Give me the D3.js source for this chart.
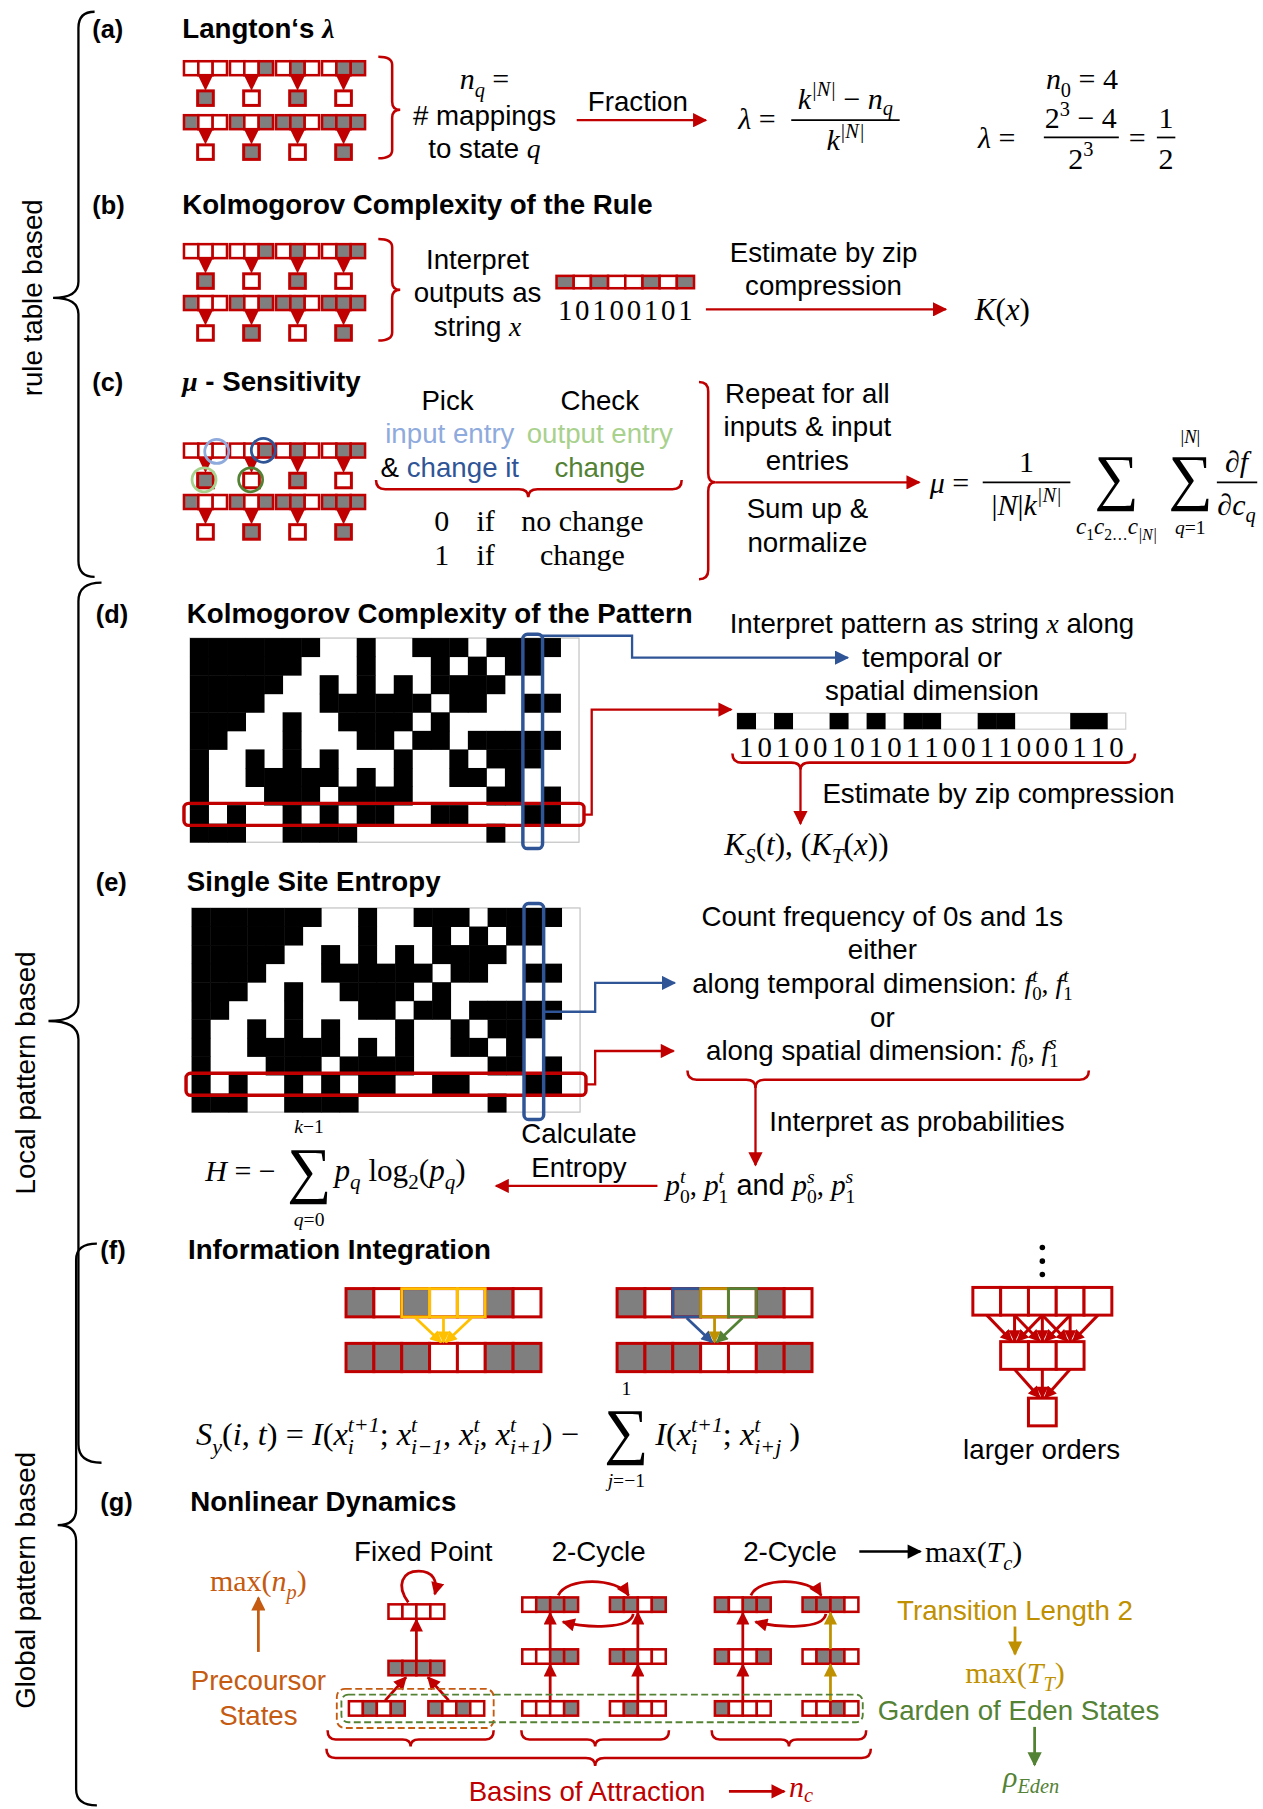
<!DOCTYPE html>
<html>
<head>
<meta charset="utf-8">
<script src="https://cdn.jsdelivr.net/npm/d3@7"></script>
<style>body{margin:0;background:#fff}svg{display:block}</style>
</head>
<body>
<svg id="fig"></svg>
<script>
// ---------- data ----------
const ruleInputs = ["000","001","010","011","100","101","110","111"];
const ruleOutputs = [1,0,1,0,0,1,0,1];
// space-time pattern of the automaton, one string per time step
const caRows = [
  "111111100100111011110",
  "111111000100010101100",
  "111110010101011110000",
  "111100011111101100110",
  "111001001111010000000",
  "110001000110110111110",
  "100101010001001011100",
  "100111110101001101000",
  "100011101111000011010",
  "101001010110011000110",
  "111001111000000010000"
];
const markedRow = 9, markedCol = 18;
const iiTop = [1,0,1,0,0,1,0];
const iiBottom = [1,1,1,0,0,1,1];
const iiBlock = [2,3,4];
const largerOrderRows = [5,3,1];
const fixedPoint = {top:"0000", mid:"1111", pre:["0101","1010"]};
const cycleOne = {top:["0111","1101"], mid:["0011","1100"], eden:["0001","0100"]};
const cycleTwo = {top:["1011","1110"], mid:["1001","0110"], eden:["1000","0010"]};
const lambdaExample = {k:2, N:3, n0:4};

// ---------- style ----------
const R="#c00000", G="#7f7f7f", BLUE="#2f5597", LBLUE="#8faadc", GREEN="#548235",
      LGREEN="#a9d18e", GOLD="#bf9000", YEL="#ffc000", ORANGE="#c55a11";
const SANS="'Liberation Sans', Arial, sans-serif";
const SERIF="'Liberation Serif', 'DejaVu Serif', serif";

const svg = d3.select("#fig").attr("width",1263).attr("height",1809)
  .attr("viewBox","0 0 1095 1568");
svg.append("rect").attr("width",1095).attr("height",1568).attr("fill","#fff");
const defs = svg.append("defs");

function mk(color, size){
  const id = "ah"+color.slice(1)+"_"+size;
  if (defs.select("#"+id).empty()){
    defs.append("marker").attr("id",id).attr("viewBox","0 0 10 10")
      .attr("refX",9).attr("refY",5).attr("markerWidth",size).attr("markerHeight",size*0.95)
      .attr("markerUnits","userSpaceOnUse").attr("orient","auto")
      .append("path").attr("d","M0,0 L10,5 L0,10 z").attr("fill",color);
  }
  return id;
}
function arrow(g, d, color, sw=2, size=13){
  g.append("path").attr("d",d).attr("fill","none").attr("stroke",color)
    .attr("stroke-width",sw).attr("marker-end",`url(#${mk(color,size)})`);
}
function line(g,x1,y1,x2,y2,color="#000",sw=1.5){
  g.append("line").attr("x1",x1).attr("y1",y1).attr("x2",x2).attr("y2",y2)
    .attr("stroke",color).attr("stroke-width",sw);
}
function txt(g,x,y,s,o={}){
  return g.append("text").attr("x",x).attr("y",y).text(s)
    .attr("font-family",o.family||SANS).attr("font-size",o.size||24)
    .attr("font-weight",o.weight||"normal").attr("font-style",o.style||"normal")
    .attr("fill",o.fill||"#000").attr("text-anchor",o.anchor||"start");
}
// rich text: flags i=italic, m=serif, s=sans, _=subscript, ^=superscript, k=stack over previous, B=bold
function rich(g,x,y,parts,o={}){
  const size=o.size||26;
  const subOff=o.sub||0.26;
  const t=g.append("text").attr("x",x).attr("y",y).attr("font-size",size)
    .attr("text-anchor",o.anchor||"start").attr("fill",o.fill||"#000")
    .attr("font-family",o.family||SERIF);
  let off=0, prev=null, pend=0;
  parts.forEach(p=>{
    if (typeof p==="string") p=[p,"m"];
    const [s,st,col]=p;
    const small = st.includes("_")||st.includes("^");
    const target = st.includes("_")? size*subOff : st.includes("^")? -size*0.42 : 0;
    const ts=t.append("tspan").text(s).attr("dy",target-off);
    off=target;
    if (small) ts.attr("font-size",size*0.68);
    if (st.includes("i")) ts.attr("font-style","italic");
    if (st.includes("m")) ts.attr("font-family",SERIF);
    if (st.includes("s")) ts.attr("font-family",SANS);
    if (st.includes("B")) ts.attr("font-weight","bold");
    if (col) ts.attr("fill",col);
    if (st.includes("k") && prev){
      const w0=prev.node().getComputedTextLength();
      ts.attr("dx",-w0);
      const w1=ts.node().getComputedTextLength();
      pend=Math.max(0,w0-w1);
    } else {
      if (pend>0) ts.attr("dx",pend);
      pend=0;
    }
    prev=ts;
  });
  return t;
}
// vertical curly brace; ends at x0, spine at x1, tip at xt
function braceV(g,x0,x1,xt,y0,y1,ym,color,sw,r){
  g.append("path").attr("fill","none").attr("stroke",color).attr("stroke-width",sw)
   .attr("d",`M${x0},${y0} Q${x1},${y0} ${x1},${y0+r} L${x1},${ym-r} Q${x1},${ym} ${xt},${ym} Q${x1},${ym} ${x1},${ym+r} L${x1},${y1-r} Q${x1},${y1} ${x0},${y1}`);
}
// horizontal curly brace opening upward, tip pointing down
function braceH(g,x0,x1,xm,y0,y1,yt,color,sw,r){
  g.append("path").attr("fill","none").attr("stroke",color).attr("stroke-width",sw)
   .attr("d",`M${x0},${y0} Q${x0},${y1} ${x0+r},${y1} L${xm-r},${y1} Q${xm},${y1} ${xm},${yt} Q${xm},${y1} ${xm+r},${y1} L${x1-r},${y1} Q${x1},${y1} ${x1},${y0}`);
}
function cellRow(g,x0,x1,y,h,vals,sw=2.2,stroke=R){
  const x=d3.scaleBand().domain(d3.range(vals.length)).range([x0,x1]);
  g.selectAll(null).data(vals).join("rect")
    .attr("x",(d,i)=>x(i)).attr("y",y).attr("width",x.bandwidth()).attr("height",h)
    .attr("fill",d=>+d?G:"#fff").attr("stroke",stroke).attr("stroke-width",sw);
  return x;
}
function drawRule(g,x,y,inp,out){
  cellRow(g,x,x+37.3,y,12.1,inp.split(""));
  const cx=x+18.65;
  g.append("path").attr("d",`M${cx-6.5},${y+12.1} L${cx+6.5},${y+12.1} L${cx},${y+25.5} Z`).attr("fill",R);
  g.append("rect").attr("x",cx-6.8).attr("y",y+25.7).attr("width",13.6).attr("height",12.6)
    .attr("fill",out?G:"#fff").attr("stroke",R).attr("stroke-width",2.6);
}
function ruleIcons(g,x0,y0,rowPitch){
  const col=d3.scaleLinear().domain([0,1]).range([x0,x0+39.9]);
  ruleInputs.forEach((inp,i)=>drawRule(g,col(i%4),y0+Math.floor(i/4)*rowPitch,inp,ruleOutputs[i]));
}
function caGrid(g,x0,x1,y0,y1){
  const x=d3.scaleBand().domain(d3.range(caRows[0].length)).range([x0,x1]);
  const y=d3.scaleBand().domain(d3.range(caRows.length)).range([y0,y1]);
  g.append("rect").attr("x",x0).attr("y",y0).attr("width",x1-x0).attr("height",y1-y0)
    .attr("fill","#fff").attr("stroke","#bfbfbf").attr("stroke-width",1);
  const cells=[];
  caRows.forEach((row,r)=>row.split("").forEach((v,c)=>{ if(v==="1") cells.push({r,c}); }));
  g.selectAll(null).data(cells).join("rect")
    .attr("x",d=>x(d.c)).attr("y",d=>y(d.r)).attr("width",x.bandwidth()+0.4).attr("height",y.bandwidth()+0.4)
    .attr("fill","#000");
  return {x,y};
}
function panelHead(label,lx,title,tx,cy){
  txt(svg,lx,cy+8,label,{weight:"bold",size:22});
  if (typeof title==="string") txt(svg,tx,cy+8,title,{weight:"bold",size:24});
  else rich(svg,tx,cy+8,title,{size:24,family:SANS});
}
function bigSum(g,cx,base){
  txt(g,cx,base,"∑",{anchor:"middle",family:SERIF,size:54});
}

// ---------- side braces & group labels ----------
const side=svg.append("g");
braceV(side,82,68,46,10,500,258,"#000",2,14);
braceV(side,88,68,42,505,1268,885,"#000",2,16);
braceV(side,84,66,50,1078,1565,1322,"#000",2,14);
[["rule table based",28,258],["Local pattern based",22,930],["Global pattern based",22,1370]].forEach(([s,x,y])=>{
  txt(side,0,0,s,{anchor:"middle",size:24}).attr("dominant-baseline","central")
    .attr("transform",`translate(${x},${y}) rotate(-90)`);
});

// ---------- panel headers ----------
panelHead("(a)",80,[["Langton‘s ","sB"],["λ","miB"]],158,25);
panelHead("(b)",80,"Kolmogorov Complexity of the Rule",158,177);
panelHead("(c)",80,[["μ","miB"],[" - Sensitivity","sB"]],158,331);
panelHead("(d)",83,"Kolmogorov Complexity of the Pattern",162,532);
panelHead("(e)",83,"Single Site Entropy",162,764);
panelHead("(f)",87,"Information Integration",163,1083);
panelHead("(g)",87,"Nonlinear Dynamics",165,1302);

// ---------- (a) Langton's lambda ----------
const pa=svg.append("g");
ruleIcons(pa,159.5,52.9,46.8);
braceV(pa,328,340,347,49,137,95,R,2.2,7);
rich(pa,420,77,[["n","mi"],["q","mi_"],[" =","m"]],{anchor:"middle"});
txt(pa,420,108,"# mappings",{anchor:"middle"});
rich(pa,420,137,[["to state ","s"],["q","mi"]],{anchor:"middle",size:24,family:SANS});
txt(pa,553,96,"Fraction",{anchor:"middle"});
arrow(pa,"M500,104 H612",R,2);
rich(pa,640,112,[["λ","mi"],[" =","m"]]);
rich(pa,733,94,[["k","mi"],["|N|","mi^"],[" − ","m"],["n","mi"],["q","mi_"]],{anchor:"middle",sub:0.2});
line(pa,686,104,780,104);
rich(pa,733,130,[["k","mi"],["|N|","mi^"]],{anchor:"middle"});
const kN=Math.pow(lambdaExample.k,lambdaExample.N);
const lamNum=kN-lambdaExample.n0, lamGcd=d3.range(1,kN+1).filter(d=>lamNum%d===0&&kN%d===0).pop();
rich(pa,938,77,[["n","mi"],["0","m_"],[" = "+lambdaExample.n0,"m"]],{anchor:"middle"});
rich(pa,848,128,[["λ","mi"],[" =","m"]]);
rich(pa,937,111,[[String(lambdaExample.k),"m"],[String(lambdaExample.N),"m^"],[" − "+lambdaExample.n0,"m"]],{anchor:"middle"});
line(pa,905,119,970,119);
rich(pa,937,146,[[String(lambdaExample.k),"m"],[String(lambdaExample.N),"m^"]],{anchor:"middle"});
rich(pa,986,128,[["=","m"]],{anchor:"middle"});
rich(pa,1011,111,[[String(lamNum/lamGcd),"m"]],{anchor:"middle"});
line(pa,1003,119,1019,119);
rich(pa,1011,146,[[String(kN/lamGcd),"m"]],{anchor:"middle"});

// ---------- (b) Kolmogorov complexity of the rule ----------
const pb=svg.append("g");
ruleIcons(pb,159.5,211.5,45);
braceV(pb,328,340,347,207,295,251,R,2.2,7);
txt(pb,414,233,"Interpret",{anchor:"middle"});
txt(pb,414,262,"outputs as",{anchor:"middle"});
rich(pb,414,291,[["string ","s"],["x","mi"]],{anchor:"middle",size:24,family:SANS});
const bx=cellRow(pb,482.5,601.7,239,10.7,ruleOutputs);
pb.selectAll(null).data(ruleOutputs).join("text")
  .attr("x",(d,i)=>bx(i)+bx.bandwidth()/2).attr("y",277).text(d=>d)
  .attr("text-anchor","middle").attr("font-family",SERIF).attr("font-size",25);
txt(pb,714,227,"Estimate by zip",{anchor:"middle"});
txt(pb,714,256,"compression",{anchor:"middle"});
arrow(pb,"M612,268 H820",R,2);
rich(pb,845,277,[["K","mi"],["(","m"],["x","mi"],[")","m"]],{size:27});

// ---------- (c) mu-sensitivity ----------
const pc=svg.append("g");
ruleIcons(pc,159.5,384.4,44.6);
[[187.9,391.2,LBLUE],[228.3,390.2,BLUE],[176.9,415.8,LGREEN],[217.3,415.8,GREEN]].forEach(([x,y,c])=>{
  pc.append("circle").attr("cx",x).attr("cy",y).attr("r",10.4).attr("fill","none")
    .attr("stroke",c).attr("stroke-width",2.4);
});
txt(pc,388,355,"Pick",{anchor:"middle"});
txt(pc,520,355,"Check",{anchor:"middle"});
txt(pc,390,384,"input entry",{anchor:"middle",fill:LBLUE});
txt(pc,520,384,"output entry",{anchor:"middle",fill:LGREEN});
rich(pc,390,413,[["& ","s"],["change it","s",BLUE]],{anchor:"middle",size:24,family:SANS});
txt(pc,520,413,"change",{anchor:"middle",fill:GREEN});
braceH(pc,326,591,458,416,424,431,R,2.2,8);
[["0","no change",460],["1","change",490]].forEach(([v,s,y])=>{
  txt(pc,383,y,v,{anchor:"middle",family:SERIF,size:26});
  txt(pc,421,y,"if",{anchor:"middle",family:SERIF,size:26});
  txt(pc,505,y,s,{anchor:"middle",family:SERIF,size:26});
});
braceV(pc,606,614,620,331,502,418,R,2.2,8);
txt(pc,700,349,"Repeat for all",{anchor:"middle"});
txt(pc,700,378,"inputs & input",{anchor:"middle"});
txt(pc,700,407,"entries",{anchor:"middle"});
txt(pc,700,449,"Sum up &",{anchor:"middle"});
txt(pc,700,478,"normalize",{anchor:"middle"});
arrow(pc,"M620,418 H797",R,2);
rich(pc,806,427,[["μ","mi"],[" =","m"]]);
rich(pc,890,409,[["1","m"]],{anchor:"middle"});
line(pc,852,418,928,418);
rich(pc,890,446,[["|","m"],["N","mi"],["|","m"],["k","mi"],["|N|","mi^"]],{anchor:"middle"});
bigSum(pc,968,432);
rich(pc,968,463,[["c","mi"],["1","m_"],["c","mi"],["2","m_"],["…","m_"],["c","mi"],["|N|","mi_"]],{anchor:"middle",size:20});
bigSum(pc,1032,432);
rich(pc,1032,384,[["|","m"],["N","mi"],["|","m"]],{anchor:"middle",size:16});
rich(pc,1032,463,[["q","mi"],["=1","m"]],{anchor:"middle",size:17});
rich(pc,1072,409,[["∂","m"],["f","mi"]],{anchor:"middle"});
line(pc,1055,418,1090,418);
rich(pc,1072,446,[["∂","m"],["c","mi"],["q","mi_"]],{anchor:"middle"});

// ---------- (d) Kolmogorov complexity of the pattern ----------
const pd=svg.append("g");
const gd=caGrid(pd,164.7,502,553,730);
pd.append("rect").attr("x",159.5).attr("y",gd.y(markedRow)-1.5).attr("width",346.8).attr("height",gd.y.bandwidth()+3)
  .attr("rx",4).attr("fill","none").attr("stroke",R).attr("stroke-width",3);
pd.append("rect").attr("x",gd.x(markedCol)-0.5).attr("y",549.7).attr("width",gd.x.bandwidth()+1).attr("height",185.8)
  .attr("rx",4).attr("fill","none").attr("stroke",BLUE).attr("stroke-width",3);
arrow(pd,"M470,551 H548 V570 H735",BLUE,2);
arrow(pd,"M506.3,706 H513 V615 H634",R,2);
rich(pd,808,549,[["Interpret pattern as string ","s"],["x","mi"],[" along","s"]],{anchor:"middle",size:24,family:SANS});
txt(pd,808,578,"temporal or",{anchor:"middle"});
txt(pd,808,607,"spatial dimension",{anchor:"middle"});
const stripVals=caRows[markedRow].split("").map(Number);
const sx=d3.scaleBand().domain(d3.range(stripVals.length)).range([639,976]);
pd.append("rect").attr("x",639).attr("y",618).attr("width",337).attr("height",14)
  .attr("fill","#fff").attr("stroke","#d0d0d0").attr("stroke-width",1);
pd.selectAll(null).data(stripVals.map((v,i)=>({v,i})).filter(d=>d.v)).join("rect")
  .attr("x",d=>sx(d.i)).attr("y",618).attr("width",sx.bandwidth()+0.4).attr("height",14).attr("fill","#000");
pd.selectAll(null).data(stripVals).join("text")
  .attr("x",(d,i)=>sx(i)+sx.bandwidth()/2).attr("y",656).text(d=>d)
  .attr("text-anchor","middle").attr("font-family",SERIF).attr("font-size",25);
braceH(pd,635,984,694,653,661,667,R,2.2,8);
arrow(pd,"M694,664 V714",R,2);
txt(pd,713,696,"Estimate by zip compression");
rich(pd,628,741,[["K","mi"],["S","mi_"],["(","m"],["t","mi"],["), (","m"],["K","mi"],["T","mi_"],["(","m"],["x","mi"],["))","m"]],{size:27});

// ---------- (e) single site entropy ----------
const pe=svg.append("g");
const ge=caGrid(pe,166.2,502.9,787,964);
pe.append("rect").attr("x",161.3).attr("y",ge.y(markedRow)-1.5).attr("width",346.7).attr("height",ge.y.bandwidth()+3)
  .attr("rx",4).attr("fill","none").attr("stroke",R).attr("stroke-width",3);
pe.append("rect").attr("x",ge.x(markedCol)-0.5).attr("y",783.2).attr("width",ge.x.bandwidth()+1).attr("height",187.2)
  .attr("rx",4).attr("fill","none").attr("stroke",BLUE).attr("stroke-width",3);
arrow(pe,"M471,877 H516 V852 H585",BLUE,2);
arrow(pe,"M508,940 H516 V911 H584",R,2);
txt(pe,765,803,"Count frequency of 0s and 1s",{anchor:"middle"});
txt(pe,765,831,"either",{anchor:"middle"});
rich(pe,765,861,[["along temporal dimension: ","s"],["f","mi"],["0","m_"],["t","mi^k"],[", ","m"],["f","mi"],["1","m_"],["t","mi^k"]],{anchor:"middle",size:24,family:SANS});
txt(pe,765,890,"or",{anchor:"middle"});
rich(pe,765,919,[["along spatial dimension: ","s"],["f","mi"],["0","m_"],["s","mi^k"],[", ","m"],["f","mi"],["1","m_"],["s","mi^k"]],{anchor:"middle",size:24,family:SANS});
braceH(pe,596,944,655,928,936,943,R,2.2,8);
arrow(pe,"M655,942 V1010",R,2);
txt(pe,667,980,"Interpret as probabilities");
rich(pe,577,1036,[["p","mi"],["0","m_"],["t","mi^k"],[", ","m"],["p","mi"],["1","m_"],["t","mi^k"],[" and ","s"],["p","mi"],["0","m_"],["s","mi^k"],[", ","m"],["p","mi"],["1","m_"],["s","mi^k"]],{size:25});
arrow(pe,"M570,1028 H430",R,2);
txt(pe,502,991,"Calculate",{anchor:"middle"});
txt(pe,502,1020,"Entropy",{anchor:"middle"});
rich(pe,178,1024,[["H","mi"],[" = −","m"]]);
bigSum(pe,268,1032);
rich(pe,268,982,[["k","mi"],["−1","m"]],{anchor:"middle",size:17});
rich(pe,268,1063,[["q","mi"],["=0","m"]],{anchor:"middle",size:17});
rich(pe,290,1024,[["p","mi"],["q","mi_"],[" log","m"],["2","m_"],["(","m"],["p","mi"],["q","mi_"],[")","m"]],{size:27});

// ---------- (f) information integration ----------
const pf=svg.append("g");
function iiPair(x0,outline){
  const w=169;
  const tx=cellRow(pf,x0,x0+w,1117,24.5,iiTop,2.6);
  cellRow(pf,x0,x0+w,1164.5,24.5,iiBottom,2.6);
  const bw=tx.bandwidth();
  iiBlock.forEach((c,k)=>{
    pf.append("rect").attr("x",tx(c)).attr("y",1117).attr("width",bw).attr("height",24.5)
      .attr("fill","none").attr("stroke",outline[k]).attr("stroke-width",2.4);
  });
  const target=tx(iiBlock[1])+bw/2;
  iiBlock.forEach((c,k)=>{
    const sx0=tx(c)+bw/2;
    arrow(pf,`M${sx0},${1142.5} L${target+(sx0-target)*0.08},${1163.5}`,outline[k],2.4,11);
  });
}
iiPair(300,[YEL,YEL,YEL]);
iiPair(535,[BLUE,GOLD,GREEN]);
// higher-order integration scheme
[1081.4,1093.2,1104.8].forEach(y=>pf.append("circle").attr("cx",903.7).attr("cy",y).attr("r",2.4).attr("fill","#000"));
const loY=[1116,1163,1212];
const loRows=largerOrderRows.map((n,r)=>{
  const w=24.1*n, x0=903.7-w/2;
  const x=cellRow(pf,x0,x0+w,loY[r],24,d3.range(n).map(()=>0),2.6);
  return {x,n};
});
for (let r=0;r<2;r++){
  const up=loRows[r], dn=loRows[r+1], bw=up.x.bandwidth();
  for (let j=0;j<dn.n;j++){
    for (let i=j;i<j+3;i++){
      const x1=up.x(i)+bw/2, x2=dn.x(j)+bw/2;
      arrow(pf,`M${x1},${loY[r]+24} L${x2+(x1-x2)*0.1},${loY[r+1]-0.5}`,R,2.6,11);
    }
  }
}
txt(pf,903,1265,"larger orders",{anchor:"middle"});
rich(pf,170,1253,[["S","mi"],["y","mi_"],["(","m"],["i","mi"],[", ","m"],["t","mi"],[")  =  ","m"],["I","mi"],["(","m"],["x","mi"],["i","mi_"],["t+1","mi^k"],[";  ","m"],["x","mi"],["i−1","mi_"],["t","mi^k"],[",  ","m"],["x","mi"],["i","mi_"],["t","mi^k"],[",  ","m"],["x","mi"],["i+1","mi_"],["t","mi^k"],[")  −","m"]],{size:28});
bigSum(pf,543,1259);
rich(pf,543,1209,[["1","m"]],{anchor:"middle",size:17});
rich(pf,543,1289,[["j","mi"],["=−1","m"]],{anchor:"middle",size:17});
rich(pf,568,1253,[["I","mi"],["(","m"],["x","mi"],["i","mi_"],["t+1","mi^k"],[";  ","m"],["x","mi"],["i+j","mi_"],["t","mi^k"],["  )","m"]],{size:28});

// ---------- (g) nonlinear dynamics ----------
const pg=svg.append("g");
function stateBar(cx,cy,s){
  cellRow(pg,cx-24.2,cx+24.2,cy-6.25,12.5,s.split(""),2.2);
}
const yTop=1391, yMid=1436, yBot=1481, fpTop=1397, fpMid=1446;
// fixed point basin
stateBar(361,fpTop,fixedPoint.top);
stateBar(361,fpMid,fixedPoint.mid);
stateBar(326.7,yBot,fixedPoint.pre[0]);
stateBar(395.6,yBot,fixedPoint.pre[1]);
arrow(pg,`M361,${fpMid-6.5} V${fpTop+7}`,R,2.4,12);
arrow(pg,`M334,${yBot-7} L352,${fpMid+8}`,R,2.4,12);
arrow(pg,`M389,${yBot-7} L371,${fpMid+8}`,R,2.4,12);
arrow(pg,"M354,1389 C343,1374 349,1362 363,1362 C375,1362 380,1370 377,1382",R,2.4,12);
// two-cycle basins
function cycle(cxL,cxR,st,rightColor){
  stateBar(cxL,yTop,st.top[0]); stateBar(cxR,yTop,st.top[1]);
  stateBar(cxL,yMid,st.mid[0]); stateBar(cxR,yMid,st.mid[1]);
  stateBar(cxL,yBot,st.eden[0]); stateBar(cxR,yBot,st.eden[1]);
  [[cxL,R],[cxR,rightColor]].forEach(([x,c])=>{
    arrow(pg,`M${x},${yMid-6.5} V${yTop+7}`,c,2.4,12);
    arrow(pg,`M${x},${yBot-6.5} V${yMid+7}`,c,2.4,12);
  });
  arrow(pg,`M${cxL+7},${yTop-8} C${cxL+14},${yTop-24} ${cxR-18},${yTop-24} ${cxR-8},${yTop-8}`,R,2.4,12);
  arrow(pg,`M${cxR-4},${yTop+8} C${cxR-6},${yTop+22} ${cxL+30},${yTop+20} ${cxL+11},${yTop+15}`,R,2.4,12);
}
cycle(477,553,cycleOne,R);
cycle(644,720,cycleTwo,GOLD);
pg.append("rect").attr("x",292).attr("y",1464).attr("width",136).attr("height",34).attr("rx",7)
  .attr("fill","none").attr("stroke",ORANGE).attr("stroke-width",1.6).attr("stroke-dasharray","6,3");
pg.append("rect").attr("x",296).attr("y",1469).attr("width",452).attr("height",24).attr("rx",6)
  .attr("fill","none").attr("stroke",GREEN).attr("stroke-width",1.6).attr("stroke-dasharray","6,3");
braceH(pg,284,428,356,1500,1508,1514,R,2.2,7);
braceH(pg,452,580,516,1500,1508,1514,R,2.2,7);
braceH(pg,617,751,684,1500,1508,1514,R,2.2,7);
braceH(pg,283,755,516,1516,1524,1531,R,2.2,8);
txt(pg,367,1353,"Fixed Point",{anchor:"middle"});
txt(pg,519,1353,"2-Cycle",{anchor:"middle"});
txt(pg,685,1353,"2-Cycle",{anchor:"middle"});
arrow(pg,"M745,1345 H798","#000",2.2,13);
rich(pg,802,1354,[["max(","m"],["T","mi"],["c","mi_"],[")","m"]]);
rich(pg,224,1379,[["max(","m"],["n","mi"],["p","mi_"],[")","m"]],{anchor:"middle",fill:ORANGE});
arrow(pg,"M224,1432 V1385",ORANGE,2.4,13);
txt(pg,224,1465,"Precoursor",{anchor:"middle",fill:ORANGE});
txt(pg,224,1495,"States",{anchor:"middle",fill:ORANGE});
txt(pg,880,1404,"Transition Length 2",{anchor:"middle",fill:GOLD});
arrow(pg,"M880,1410 V1434",GOLD,2.4,13);
rich(pg,880,1459,[["max(","m"],["T","mi"],["T","mi_"],[")","m"]],{anchor:"middle",fill:GOLD});
txt(pg,883,1491,"Garden of Eden States",{anchor:"middle",fill:GREEN});
arrow(pg,"M897,1497 V1530",GREEN,2.4,13);
rich(pg,894,1549,[["ρ","mi"],["Eden","mi_"]],{anchor:"middle",fill:GREEN,sub:0.2});
txt(pg,509,1561,"Basins of Attraction",{anchor:"middle",fill:R});
arrow(pg,"M632,1553 H680",R,2.4,13);
rich(pg,684,1558,[["n","mi"],["c","mi_"]],{fill:R,sub:0.15});
</script>
</body>
</html>
